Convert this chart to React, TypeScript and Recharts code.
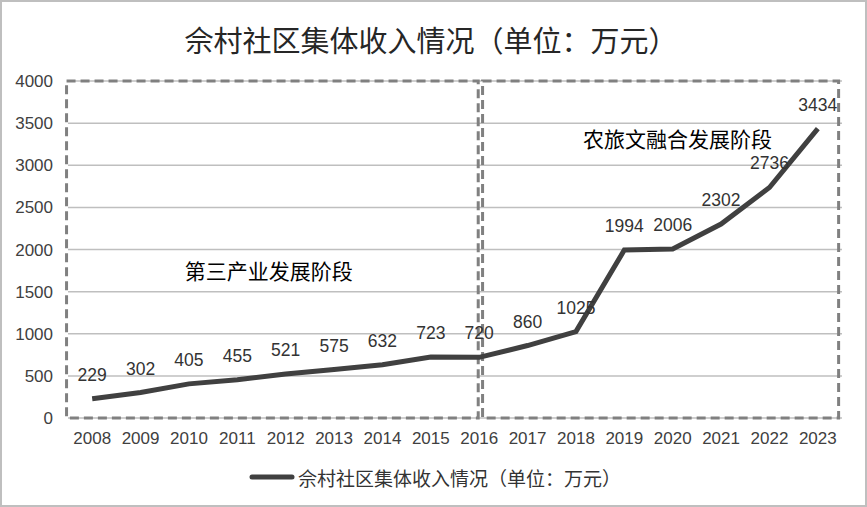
import React from "react";
import {
  LineChart,
  Line,
  XAxis,
  YAxis,
  CartesianGrid,
  Legend,
  ReferenceArea,
  ReferenceDot,
  LabelList,
} from "recharts";

const years = [2008, 2009, 2010, 2011, 2012, 2013, 2014, 2015, 2016, 2017, 2018, 2019, 2020, 2021, 2022, 2023];
const income = [229, 302, 405, 455, 521, 575, 632, 723, 720, 860, 1025, 1994, 2006, 2302, 2736, 3434];
const yTicks = [0, 500, 1000, 1500, 2000, 2500, 3000, 3500, 4000];

const TITLE = "佘村社区集体收入情况（单位：万元）";
const SERIES = "佘村社区集体收入情况（单位：万元）";
const PHASE1 = "第三产业发展阶段";
const PHASE2 = "农旅文融合发展阶段";

const data = years.map((y, i) => ({ year: y, value: income[i] }));

const CJK = "'Noto Sans CJK SC', 'Liberation Sans', Arial, sans-serif";
const NUM = "'Liberation Sans', Arial, sans-serif";

const LegendContent = () => (
  <div
    style={{
      display: "flex",
      justifyContent: "center",
      alignItems: "center",
      height: 24,
      paddingLeft: 28,
      fontFamily: CJK,
      fontSize: 19,
      color: "#333",
    }}
  >
    <svg width={46} height={10} style={{ marginRight: 3 }}>
      <line x1={3} y1={5} x2={43} y2={5} stroke="#404040" strokeWidth={5} strokeLinecap="round" />
    </svg>
    <span>{SERIES}</span>
  </div>
);

const dashStyle = {
  stroke: "#808080",
  strokeWidth: 3,
  strokeDasharray: "9 5",
  fill: "none",
  fillOpacity: 0,
};

export default function App() {
  return (
    <div
      style={{
        position: "absolute",
        left: 0,
        top: 0,
        width: 867,
        height: 507,
        boxSizing: "border-box",
        border: "2px solid #bfbfbf",
        background: "#fff",
      }}
    >
      <div
        style={{
          position: "absolute",
          left: 0,
          top: 17,
          width: 858,
          textAlign: "center",
          fontFamily: CJK,
          fontSize: 29,
          color: "#262626",
          lineHeight: "40px",
        }}
      >
        {TITLE}
      </div>
      <div style={{ position: "absolute", left: -2, top: -2 }}>
        <LineChart
          width={867}
          height={507}
          data={data}
          margin={{ top: 81, right: 25, bottom: 18, left: 0 }}
        >
          <CartesianGrid vertical={false} stroke="#bfbfbf" strokeWidth={1.5} />
          <XAxis
            dataKey="year"
            type="number"
            domain={[2007.5, 2023.5]}
            allowDataOverflow={true}
            ticks={years}
            interval={0}
            height={47}
            axisLine={false}
            tickLine={false}
            tickMargin={8}
            tick={{ fontFamily: NUM, fontSize: 17, fill: "#404040" }}
          />
          <YAxis
            type="number"
            domain={[0, 4000]}
            ticks={yTicks}
            width={68}
            axisLine={false}
            tickLine={false}
            tickMargin={9}
            tick={{ fontFamily: NUM, fontSize: 17, fill: "#404040" }}
          />
          <ReferenceArea x1={2007.47} x2={2015.98} y1={0} y2={4000} ifOverflow="visible" {...dashStyle} />
          <ReferenceArea x1={2016.07} x2={2023.43} y1={0} y2={4000} ifOverflow="visible" {...dashStyle} />
          <ReferenceDot
            x={2011.65}
            y={1733}
            r={0}
            fill="none"
            stroke="none"
            label={{ value: PHASE1, position: "center", fontFamily: CJK, fontSize: 21, fill: "#000" }}
          />
          <ReferenceDot
            x={2020.1}
            y={3300}
            r={0}
            fill="none"
            stroke="none"
            label={{ value: PHASE2, position: "center", fontFamily: CJK, fontSize: 21, fill: "#000" }}
          />
          <Line
            type="linear"
            dataKey="value"
            name={SERIES}
            stroke="#404040"
            strokeWidth={5}
            dot={false}
            activeDot={false}
            isAnimationActive={false}
          >
            <LabelList
              dataKey="value"
              position="top"
              offset={18}
              style={{ fontFamily: NUM, fontSize: 17.5, fill: "#333" }}
            />
          </Line>
          <Legend verticalAlign="bottom" align="center" content={<LegendContent />} />
        </LineChart>
      </div>
    </div>
  );
}
